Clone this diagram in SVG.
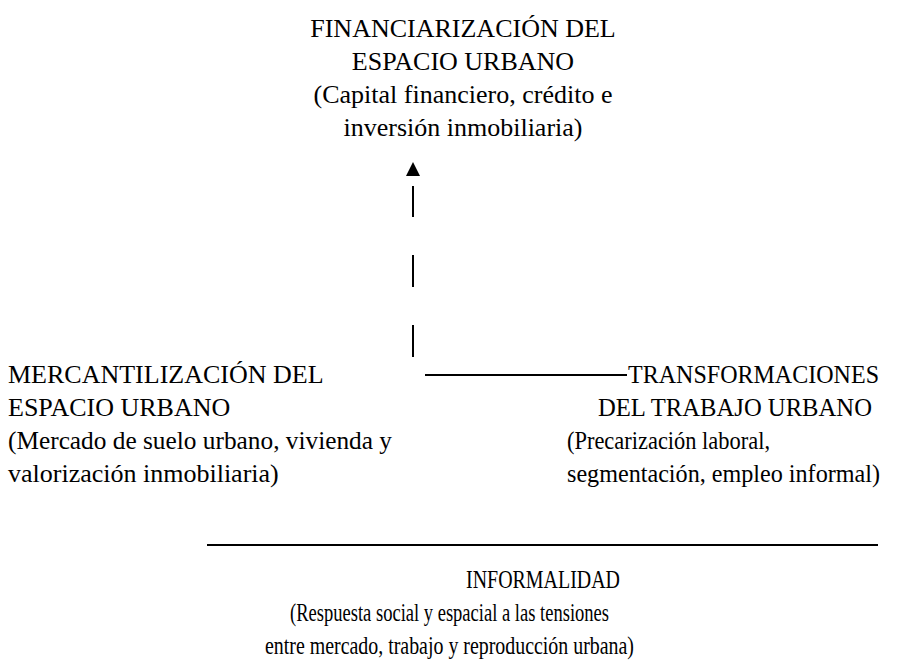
<svg xmlns="http://www.w3.org/2000/svg" width="907" height="664" viewBox="0 0 907 664">
<style>
text{font-family:"Liberation Serif","Times New Roman",serif;font-size:26px;fill:#000}
.c{text-anchor:middle}
.ln{stroke:#000;stroke-width:2;fill:none}
</style>
<rect width="907" height="664" fill="#fff"/>
<g id="financiarizacion">
<text class="c" x="463" y="37">FINANCIARIZACIÓN DEL</text>
<text class="c" x="463" y="70">ESPACIO URBANO</text>
<text class="c" x="463" y="103">(Capital financiero, crédito e</text>
<text class="c" x="463" y="136">inversión inmobiliaria)</text>
</g>
<g id="mercantilizacion">
<text x="8" y="383">MERCANTILIZACIÓN DEL</text>
<text x="8" y="416">ESPACIO URBANO</text>
<text x="8" y="449" textLength="384" lengthAdjust="spacingAndGlyphs">(Mercado de suelo urbano, vivienda y</text>
<text x="8" y="482">valorización inmobiliaria)</text>
</g>
<g id="transformaciones">
<text x="628" y="383" textLength="251" lengthAdjust="spacingAndGlyphs">TRANSFORMACIONES</text>
<text x="598" y="416" textLength="274" lengthAdjust="spacingAndGlyphs">DEL TRABAJO URBANO</text>
<text x="567" y="449" textLength="203" lengthAdjust="spacingAndGlyphs">(Precarización laboral,</text>
<text x="567" y="482" textLength="313" lengthAdjust="spacingAndGlyphs">segmentación, empleo informal)</text>
</g>
<g id="informalidad">
<text class="c" x="543" y="588" textLength="154" lengthAdjust="spacingAndGlyphs">INFORMALIDAD</text>
<text x="290" y="621" textLength="319" lengthAdjust="spacingAndGlyphs">(Respuesta social y espacial a las tensiones</text>
<text x="265" y="654" textLength="369" lengthAdjust="spacingAndGlyphs">entre mercado, trabajo y reproducción urbana)</text>
</g>
<g id="connectors">
<polygon points="413,162 406,176 420,176" fill="#000"/>
<line class="ln" x1="413" y1="186" x2="413" y2="217"/>
<line class="ln" x1="413" y1="255" x2="413" y2="287"/>
<line class="ln" x1="413" y1="325" x2="413" y2="357"/>
<line class="ln" x1="425" y1="375" x2="627" y2="375"/>
<line class="ln" x1="207" y1="545" x2="878" y2="545"/>
</g>
</svg>
